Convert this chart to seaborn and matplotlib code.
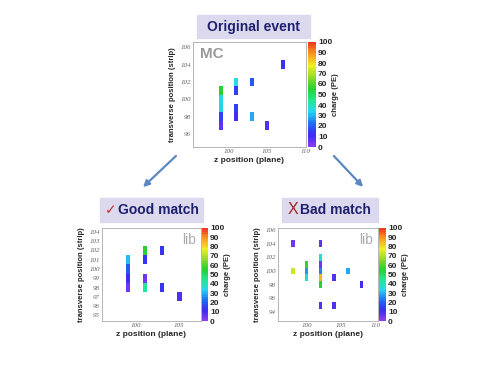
import numpy as np
import pandas as pd
import matplotlib
matplotlib.use("Agg")
import matplotlib.pyplot as plt
import seaborn as sns
from matplotlib.colors import LinearSegmentedColormap
from matplotlib.patches import Rectangle, FancyArrowPatch

# %% data (z plane, strip, charge in PE)
mc_z = [99, 99, 99, 99, 99, 101, 101, 101, 101, 103, 103, 105, 107]
mc_strip = [101, 100, 99, 98, 97, 102, 101, 99, 98, 102, 98, 97, 104]
mc_q = [55, 35, 33, 15, 6, 35, 15, 14, 10, 18, 28, 8, 12]

good_z = [99, 99, 99, 99, 101, 101, 101, 101, 103, 103, 105]
good_strip = [101, 100, 99, 98, 102, 101, 99, 98, 102, 98, 97]
good_q = [30, 18, 10, 5, 55, 12, 5, 43, 12, 12, 9]

bad_z = [98, 98, 100, 100, 100, 102, 102, 102, 102, 102, 102, 102, 104, 104, 106, 108]
bad_strip = [104, 100, 101, 100, 99, 104, 102, 101, 100, 99, 98, 95, 99, 95, 100, 98]
bad_q = [5, 72, 58, 26, 36, 6, 36, 5, 25, 85, 55, 8, 9, 9, 28, 10]

charge_ticks = list(range(0, 101, 10))

# ROOT-like rainbow palette
cmap = LinearSegmentedColormap.from_list(
    "root", ["#8a3cf5", "#3a2cf5", "#1e6ff0", "#25d8f0", "#20e890",
             "#28d030", "#8cdc28", "#f0f020", "#f8a020", "#f03c1c"], N=50)

W, H = 487, 389


def fig_rect(x0, y0, x1, y1):
    # pixel box -> figure fraction [left, bottom, width, height]
    return [x0 / W, 1 - y1 / H, (x1 - x0) / W, (y1 - y0) / H]


def draw_event(fig, box, cbox, z, strip, q, xlim, ylim, xticks, yticks, tag, tag_right=False):
    ax = fig.add_axes(fig_rect(*box))
    cax = fig.add_axes(fig_rect(*cbox))
    df = pd.DataFrame({"z": z, "strip": strip, "q": q})
    sns.histplot(data=df, x="z", y="strip", weights="q", ax=ax,
                 binwidth=(0.5, 1), binrange=((95.25, 110.25), (92.5, 106.5)),
                 cmap=cmap, vmin=0, vmax=100, cbar=True, cbar_ax=cax,
                 cbar_kws={"ticks": charge_ticks})
    ax.set_xticks(xticks)
    ax.set_xticks(np.arange(97.5, 110, 5), minor=True)
    ax.set_yticks(yticks)
    ax.set_xlim(*xlim)
    ax.set_ylim(*ylim)
    ax.grid(False)
    for lab in ax.get_xticklabels() + ax.get_yticklabels():
        lab.set_family("Liberation Serif")
        lab.set_style("italic")
    ax.tick_params(which="both", direction="in", labelsize=5, colors="#666",
                   length=2, width=0.5, pad=1.5)
    ax.tick_params(which="minor", length=1.2)
    for s in ax.spines.values():
        s.set_color("#aaa")
        s.set_linewidth(0.6)
    ax.set_xlabel("z position (plane)", fontsize=6, fontweight="bold", labelpad=2)
    ax.set_ylabel("transverse position (strip)", fontsize=5.5, fontweight="bold", labelpad=3)
    if tag_right:
        ax.text(0.95, 0.95, tag, transform=ax.transAxes, ha="right", va="top",
                fontsize=10, color="#aaa")
    else:
        ax.text(0.06, 0.95, tag, transform=ax.transAxes, ha="left", va="top",
                fontsize=11, fontweight="bold", color="#999")

    cax.tick_params(length=0, labelsize=6, pad=1.5)
    for lab in cax.get_yticklabels():
        lab.set_fontweight("bold")
    for s in cax.spines.values():
        s.set_visible(False)
    cax.set_ylabel("charge (PE)", fontsize=5.5, fontweight="bold", labelpad=0)
    return ax


sns.set_style("white")
plt.rcParams["font.family"] = ["Liberation Sans", "DejaVu Sans"]

fig = plt.figure(figsize=(W / 100, H / 100), dpi=100)

draw_event(fig, (193, 42, 306, 147), (308, 42, 316, 147), mc_z, mc_strip, mc_q,
           (95.4, 110), (94.5, 106.6), [100, 105, 110], range(96, 107, 2), "MC")
draw_event(fig, (102, 228, 201, 321), (202, 228, 208, 321), good_z, good_strip, good_q,
           (96, 107.5), (94.4, 104.4), [100, 105], range(95, 105), "lib", tag_right=True)
draw_event(fig, (278, 228, 378, 321), (379, 228, 386, 321), bad_z, bad_strip, bad_q,
           (95.8, 110.4), (92.7, 106.3), [100, 105, 110], range(94, 107, 2), "lib",
           tag_right=True)

# title boxes
box_color = "#dcd9ef"
navy = "#1e206e"
for x0, y0, x1, y1 in [(197, 15, 310, 38), (100, 198, 203, 222), (282, 198, 378, 222)]:
    fig.patches.append(Rectangle((x0 / W, 1 - y1 / H), (x1 - x0) / W, (y1 - y0) / H,
                                 transform=fig.transFigure, color=box_color, zorder=0))
fig.text(253.5 / W, 1 - 26.5 / H, "Original event", ha="center", va="center",
         fontsize=10, fontweight="bold", color=navy)
fig.text(117 / W, 1 - 210 / H, "\u2713", ha="right", va="center", fontsize=10,
         color="#c8302a", family="DejaVu Sans")
fig.text(118 / W, 1 - 210 / H, "Good match", ha="left", va="center",
         fontsize=10, fontweight="bold", color=navy)
fig.text(298 / W, 1 - 210 / H, "X", ha="right", va="center", fontsize=11.5,
         color="#a8201c")
fig.text(300 / W, 1 - 210 / H, "Bad match", ha="left", va="center",
         fontsize=10, fontweight="bold", color=navy)

# arrows
for a, b in [((178, 154), (141, 189)), ((332, 154), (365, 189))]:
    fig.add_artist(FancyArrowPatch((a[0] / W, 1 - a[1] / H), (b[0] / W, 1 - b[1] / H),
                                   transform=fig.transFigure, arrowstyle="-|>",
                                   mutation_scale=9, lw=1.6, color="#5b88c0"))

fig.savefig("out.png", dpi=100)
